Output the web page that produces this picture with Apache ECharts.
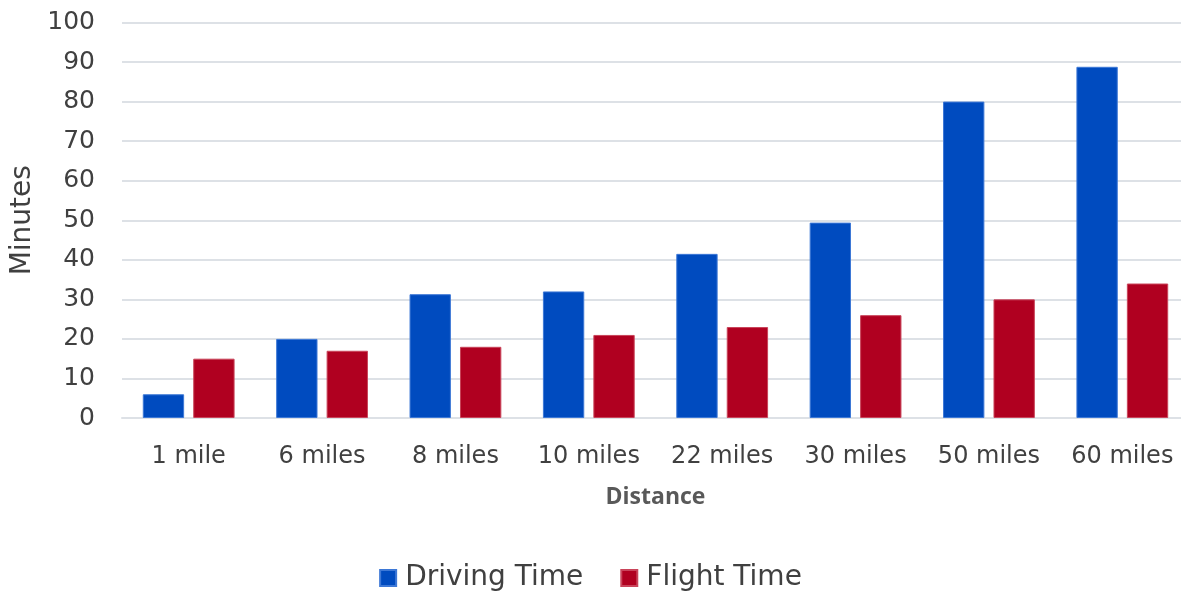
<!DOCTYPE html>
<html>
<head>
<meta charset="utf-8">
<script src="https://cdn.jsdelivr.net/npm/echarts@6/dist/echarts.min.js"></script>
<style>html,body{margin:0;padding:0;background:#fff}#c{width:1181px;height:591px}</style>
</head>
<body>
<div id="c"></div>
<script>
const categories = ['1 mile','6 miles','8 miles','10 miles','22 miles','30 miles','50 miles','60 miles'];
const drivingTime = [6, 20, 31.3, 32, 41.5, 49.4, 80, 88.8];
const flightTime = [15, 17, 18, 21, 23, 26, 30, 34];
const yTicks = {min: 0, max: 100, interval: 10};

const chart = echarts.init(document.getElementById('c'), null, {renderer: 'canvas'});
const font = '"DejaVu Sans", "Open Sans", sans-serif';
chart.setOption({
  animation: false,
  textStyle: {fontFamily: font},
  grid: {left: 122, right: -8, top: 22.5, bottom: 173, containLabel: false, outerBoundsMode: 'none'},
  legend: {
    bottom: -6, left: 'center',
    itemWidth: 16, itemHeight: 16, itemGap: 37,
    icon: 'rect',
    textStyle: {fontSize: 28, color: '#404040', fontFamily: font, padding: [0, 0, 0, 4]},
    data: ['Driving Time', 'Flight Time']
  },
  xAxis: {
    type: 'category', data: categories,
    name: 'Distance', nameLocation: 'middle', nameGap: 68,
    nameTextStyle: {fontSize: 23, fontWeight: 'bold', color: '#595959', fontFamily: '"Open Sans", sans-serif'},
    axisLine: {lineStyle: {color: '#DDE1E6', width: 2}},
    axisTick: {show: false},
    axisLabel: {fontSize: 24, color: '#404040', margin: 27, fontFamily: font}
  },
  yAxis: {
    type: 'value', min: yTicks.min, max: yTicks.max, interval: yTicks.interval,
    name: 'Minutes', nameLocation: 'middle', nameGap: 82, nameRotate: 90,
    nameTextStyle: {fontSize: 28, color: '#404040', fontFamily: font},
    axisLine: {show: false}, axisTick: {show: false},
    axisLabel: {fontSize: 25, color: '#404040', margin: 27, fontFamily: font},
    splitLine: {lineStyle: {color: '#DDE1E6', width: 2}}
  },
  series: [
    {name: 'Driving Time', type: 'bar', data: drivingTime, barWidth: '31%', barGap: '22%',
     itemStyle: {color: '#004BBF', borderColor: '#3D78D6', borderWidth: 1}},
    {name: 'Flight Time', type: 'bar', data: flightTime, barWidth: '31%', barGap: '22%',
     itemStyle: {color: '#B00020', borderColor: '#C9445A', borderWidth: 1}}
  ]
});
</script>
</body>
</html>
